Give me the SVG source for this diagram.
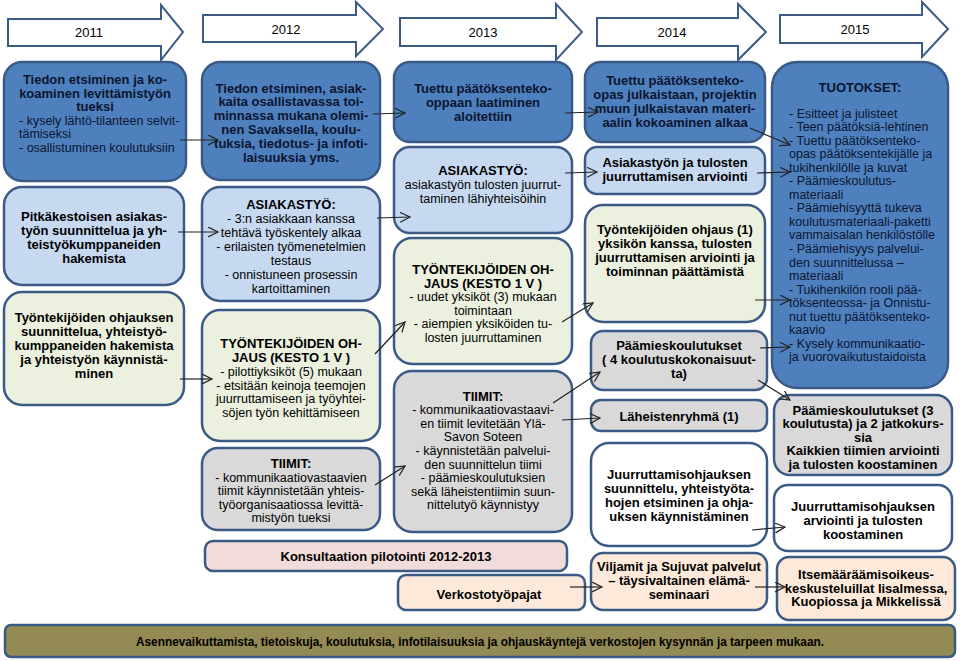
<svg xmlns="http://www.w3.org/2000/svg" width="960" height="661" viewBox="0 0 960 661">
<style>
text{font-family:"Liberation Sans",Arial,sans-serif;font-size:13px;fill:#000}
.b{font-weight:bold}
.c{text-anchor:middle}
.n{font-size:12.5px}
.dt{fill:#0a1530}
.box{stroke:#3b5b86;stroke-width:2.5}
.dk{fill:#4f80be}.lb{fill:#c6d9f1}.gr{fill:#ebf1de}.gy{fill:#d9d9d9}.wh{fill:#fff}.pk{fill:#f2dcdb}.pc{fill:#fde9d9}.ol{fill:#948a54}
.yr{fill:#fff;stroke:#3b5b86;stroke-width:2}
.cn line{stroke:#222;stroke-width:1.2;marker-end:url(#ah)}
</style>
<defs>
<marker id="ah" markerUnits="userSpaceOnUse" markerWidth="12" markerHeight="12" refX="10" refY="5" orient="auto">
<path d="M0,0 L10,5 L0,10" fill="none" stroke="#222" stroke-width="1.2"/>
</marker>
</defs>
<rect width="960" height="661" fill="#fff"/>

<g id="years">
<g id="y2011"><polygon class="yr" points="8,19 161,19 161,5 183,32 161,60 161,46 8,46"/><text class="c" x="89" y="37">2011</text></g>
<g id="y2012"><polygon class="yr" points="203,15 356,15 356,2 383,29 356,56 356,42 203,42"/><text class="c" x="286" y="34">2012</text></g>
<g id="y2013"><polygon class="yr" points="400,18 556,18 556,4 582,32 556,60 556,46 400,46"/><text class="c" x="483" y="37">2013</text></g>
<g id="y2014"><polygon class="yr" points="597,18 738,18 738,4 766,32 738,60 738,46 597,46"/><text class="c" x="672" y="37">2014</text></g>
<g id="y2015"><polygon class="yr" points="780,15 922,15 922,2 948,29 922,57 922,43 780,43"/><text class="c" x="855" y="34">2015</text></g>
</g>

<g id="A1"><rect class="box dk" x="4" y="62" width="182" height="119" rx="18"/>
<text class="b c dt"><tspan x="95" y="84">Tiedon etsiminen ja ko-</tspan><tspan x="95" y="97.5">koaminen levittämistyön</tspan><tspan x="95" y="111">tueksi</tspan></text>
<text class="n dt"><tspan x="19" y="124.5">- kysely lähtö-tilanteen selvit-</tspan><tspan x="19" y="138">tämiseksi</tspan><tspan x="19" y="151.5">- osallistuminen koulutuksiin</tspan></text></g>

<g id="A2"><rect class="box lb" x="4" y="187" width="180" height="98" rx="18"/>
<text class="b c"><tspan x="94" y="221">Pitkäkestoisen asiakas-</tspan><tspan x="94" y="235">työn suunnittelua ja yh-</tspan><tspan x="94" y="249">teistyökumppaneiden</tspan><tspan x="94" y="263">hakemista</tspan></text></g>

<g id="A3"><rect class="box gr" x="4" y="292" width="180" height="113" rx="18"/>
<text class="b c"><tspan x="94" y="321.5">Työntekijöiden ohjauksen</tspan><tspan x="94" y="335.5">suunnittelua, yhteistyö-</tspan><tspan x="94" y="349.5">kumppaneiden hakemista</tspan><tspan x="94" y="363.5">ja yhteistyön käynnistä-</tspan><tspan x="94" y="377.5">minen</tspan></text></g>

<g id="B1"><rect class="box dk" x="202" y="62" width="178" height="118" rx="18"/>
<text class="b c dt"><tspan x="291" y="92.5">Tiedon etsiminen, asiak-</tspan><tspan x="291" y="106.3">kaita osallistavassa toi-</tspan><tspan x="291" y="120.1">minnassa mukana olemi-</tspan><tspan x="291" y="133.9">nen Savaksella, koulu-</tspan><tspan x="291" y="147.7">tuksia, tiedotus- ja infoti-</tspan><tspan x="291" y="161.5">laisuuksia yms.</tspan></text></g>

<g id="B2"><rect class="box lb" x="202" y="187" width="178" height="114" rx="18"/>
<text class="b c" x="291" y="208.5">ASIAKASTYÖ:</text>
<text class="n c"><tspan x="291" y="222.5">- 3:n asiakkaan kanssa</tspan><tspan x="291" y="236.5">tehtävä työskentely alkaa</tspan><tspan x="291" y="250.5">- erilaisten työmenetelmien</tspan><tspan x="291" y="264.5">testaus</tspan><tspan x="291" y="278.5">- onnistuneen prosessin</tspan><tspan x="291" y="292.5">kartoittaminen</tspan></text></g>

<g id="B3"><rect class="box gr" x="202" y="310" width="178" height="131" rx="18"/>
<text class="b c"><tspan x="291" y="347.5">TYÖNTEKIJÖIDEN OH-</tspan><tspan x="291" y="361.5">JAUS (KESTO 1 V )</tspan></text>
<text class="n c"><tspan x="291" y="375.5">- pilottiyksiköt (5) mukaan</tspan><tspan x="291" y="389.5">- etsitään keinoja teemojen</tspan><tspan x="291" y="403">juurruttamiseen ja työyhtei-</tspan><tspan x="291" y="416.5">söjen työn kehittämiseen</tspan></text></g>

<g id="B4"><rect class="box gy" x="202" y="448" width="178" height="82" rx="16"/>
<text class="b c" x="291" y="467.5">TIIMIT:</text>
<text class="n c"><tspan x="291" y="481.5">- kommunikaatiovastaavien</tspan><tspan x="291" y="495">tiimit käynnistetään yhteis-</tspan><tspan x="291" y="508.5">työorganisaatiossa levittä-</tspan><tspan x="291" y="522">mistyön tueksi</tspan></text></g>

<g id="K"><rect class="box pk" x="205" y="541" width="362" height="30" rx="8"/>
<text class="b c" x="386" y="560.5">Konsultaation pilotointi 2012-2013</text></g>

<g id="C1"><rect class="box dk" x="394" y="62" width="178" height="80" rx="16"/>
<text class="b c dt"><tspan x="483" y="92.5">Tuettu päätöksenteko-</tspan><tspan x="483" y="106.5">oppaan laatiminen</tspan><tspan x="483" y="120.5">aloitettiin</tspan></text></g>

<g id="C2"><rect class="box lb" x="394" y="147" width="178" height="86" rx="16"/>
<text class="b c" x="483" y="174.5">ASIAKASTYÖ:</text>
<text class="n c"><tspan x="483" y="188.5">asiakastyön tulosten juurrut-</tspan><tspan x="483" y="202.5">taminen lähiyhteisöihin</tspan></text></g>

<g id="C3"><rect class="box gr" x="394" y="238" width="178" height="126" rx="18"/>
<text class="b c"><tspan x="483" y="273.5">TYÖNTEKIJÖIDEN OH-</tspan><tspan x="483" y="287.5">JAUS (KESTO 1 V )</tspan></text>
<text class="n c"><tspan x="483" y="301">- uudet yksiköt (3) mukaan</tspan><tspan x="483" y="314.5">toimintaan</tspan><tspan x="483" y="328">- aiempien yksiköiden tu-</tspan><tspan x="483" y="341.5">losten juurruttaminen</tspan></text></g>

<g id="C4"><rect class="box gy" x="394" y="371" width="178" height="161" rx="18"/>
<text class="b c" x="483" y="400.5">TIIMIT:</text>
<text class="n c"><tspan x="483" y="414.1">- kommunikaatiovastaavi-</tspan><tspan x="483" y="427.7">en tiimit levitetään Ylä-</tspan><tspan x="483" y="441.3">Savon Soteen</tspan><tspan x="483" y="454.9">- käynnistetään palvelui-</tspan><tspan x="483" y="468.5">den suunnittelun tiimi</tspan><tspan x="483" y="482.1">- päämieskoulutuksien</tspan><tspan x="483" y="495.7">sekä läheistentiimin suun-</tspan><tspan x="483" y="509.3">nittelutyö käynnistyy</tspan></text></g>

<g id="V"><rect class="box pc" x="398" y="575" width="187" height="35" rx="8"/>
<text class="b c" x="489" y="598.5">Verkostotyöpajat</text></g>

<g id="D1"><rect class="box dk" x="585" y="62" width="180" height="80" rx="16"/>
<text class="b c dt"><tspan x="675" y="84.5">Tuettu päätöksenteko-</tspan><tspan x="675" y="98.5">opas julkaistaan, projektin</tspan><tspan x="675" y="112.5">muun julkaistavan materi-</tspan><tspan x="675" y="126.5">aalin kokoaminen alkaa</tspan></text></g>

<g id="D2"><rect class="box lb" x="585" y="147" width="180" height="47" rx="12"/>
<text class="b c"><tspan x="675" y="166.5">Asiakastyön ja tulosten</tspan><tspan x="675" y="180.5">juurruttamisen arviointi</tspan></text></g>

<g id="D3"><rect class="box gr" x="585" y="205" width="180" height="117" rx="18"/>
<text class="b c"><tspan x="675" y="233.5">Työntekijöiden ohjaus (1)</tspan><tspan x="675" y="247.5">yksikön kanssa, tulosten</tspan><tspan x="675" y="261.5">juurruttamisen arviointi ja</tspan><tspan x="675" y="275.5">toiminnan päättämistä</tspan></text></g>

<g id="D4"><rect class="box gy" x="591" y="331" width="176" height="59" rx="12"/>
<text class="b c"><tspan x="679" y="349.5">Päämieskoulutukset</tspan><tspan x="679" y="363.5">( 4 koulutuskokonaisuut-</tspan><tspan x="679" y="377.5">ta)</tspan></text></g>

<g id="D5"><rect class="box gy" x="591" y="400" width="176" height="31" rx="10"/>
<text class="b c" x="679" y="420.5">Läheistenryhmä (1)</text></g>

<g id="D6"><rect class="box wh" x="591" y="443" width="176" height="103" rx="18"/>
<text class="b c"><tspan x="679" y="478.5">Juurruttamisohjauksen</tspan><tspan x="679" y="492.5">suunnittelu, yhteistyöta-</tspan><tspan x="679" y="506.5">hojen etsiminen ja ohja-</tspan><tspan x="679" y="520.5">uksen käynnistäminen</tspan></text></g>

<g id="D7"><rect class="box pc" x="591" y="553" width="176" height="57" rx="12"/>
<text class="b c"><tspan x="679" y="570.5">Viljamit ja Sujuvat palvelut</tspan><tspan x="679" y="584.5">– täysivaltainen elämä-</tspan><tspan x="679" y="598.5">seminaari</tspan></text></g>

<g id="E1"><rect class="box dk" x="772" y="62" width="176" height="326" rx="25"/>
<text class="b c dt" x="860" y="91.5">TUOTOKSET:</text>
<text class="n dt"><tspan x="789" y="117.5">- Esitteet ja julisteet</tspan><tspan x="789" y="131">- Teen päätöksiä-lehtinen</tspan><tspan x="789" y="144.6">- Tuettu päätöksenteko-</tspan><tspan x="789" y="158.1">opas päätöksentekijälle ja</tspan><tspan x="789" y="171.7">tukihenkilölle ja kuvat</tspan><tspan x="789" y="185.2">- Päämieskoulutus-</tspan><tspan x="789" y="198.8">materiaali</tspan><tspan x="789" y="212.3">- Päämiehisyyttä tukeva</tspan><tspan x="789" y="225.9">koulutusmateriaali-paketti</tspan><tspan x="789" y="239.4">vammaisalan henkilöstölle</tspan><tspan x="789" y="253">- Päämiehisyys palvelui-</tspan><tspan x="789" y="266.5">den suunnittelussa –</tspan><tspan x="789" y="280.1">materiaali</tspan><tspan x="789" y="293.6">- Tukihenkilön rooli pää-</tspan><tspan x="789" y="307.2">töksenteossa- ja Onnistu-</tspan><tspan x="789" y="320.7">nut tuettu päätöksenteko-</tspan><tspan x="789" y="334.3">kaavio</tspan><tspan x="789" y="347.8">- Kysely kommunikaatio-</tspan><tspan x="789" y="361.4">ja vuorovaikutustaidoista</tspan></text></g>

<g id="E2"><rect class="box gy" x="774" y="395" width="178" height="80" rx="16"/>
<text class="b c"><tspan x="863" y="414.5">Päämieskoulutukset (3</tspan><tspan x="863" y="428">koulutusta) ja 2 jatkokurs-</tspan><tspan x="863" y="441.5">sia</tspan><tspan x="863" y="455">Kaikkien tiimien arviointi</tspan><tspan x="863" y="468.5">ja tulosten koostaminen</tspan></text></g>

<g id="E3"><rect class="box wh" x="774" y="485" width="178" height="66" rx="14"/>
<text class="b c"><tspan x="863" y="510.5">Juurruttamisohjauksen</tspan><tspan x="863" y="524.5">arviointi ja tulosten</tspan><tspan x="863" y="538.5">koostaminen</tspan></text></g>

<g id="E4"><rect class="box pc" x="777" y="557" width="178" height="63" rx="12"/>
<text class="b c"><tspan x="866" y="579">Itsemääräämisoikeus-</tspan><tspan x="866" y="592.5">keskusteluillat Iisalmessa,</tspan><tspan x="866" y="606">Kuopiossa ja Mikkelissä</tspan></text></g>

<g id="F"><rect class="box ol" x="5" y="625" width="950" height="32" rx="6"/>
<text class="b c" x="480" y="646" font-size="12" textLength="688" lengthAdjust="spacingAndGlyphs">Asennevaikuttamista, tietoiskuja, koulutuksia, infotilaisuuksia ja ohjauskäyntejä verkostojen kysynnän ja tarpeen mukaan.</text></g>

<g id="connectors" class="cn">
<line x1="180" y1="140" x2="218" y2="140"/>
<line x1="178" y1="232" x2="218" y2="232"/>
<line x1="180" y1="379" x2="212" y2="379"/>
<line x1="373" y1="114" x2="405" y2="113"/>
<line x1="377" y1="218" x2="410" y2="217"/>
<line x1="375" y1="354" x2="405" y2="322"/>
<line x1="375" y1="485" x2="405" y2="466"/>
<line x1="565" y1="113" x2="598" y2="112"/>
<line x1="565" y1="173" x2="597" y2="172"/>
<line x1="562" y1="322" x2="593" y2="303"/>
<line x1="553" y1="403" x2="600" y2="372"/>
<line x1="562" y1="420" x2="600" y2="418"/>
<line x1="570" y1="587" x2="602" y2="587"/>
<line x1="750" y1="128" x2="790" y2="145"/>
<line x1="757" y1="173" x2="790" y2="172"/>
<line x1="755" y1="300" x2="790" y2="300"/>
<line x1="760" y1="348" x2="790" y2="347"/>
<line x1="758" y1="380" x2="790" y2="400"/>
<line x1="752" y1="530" x2="785" y2="527"/>
<line x1="755" y1="587" x2="785" y2="587"/>
</g>
</svg>
